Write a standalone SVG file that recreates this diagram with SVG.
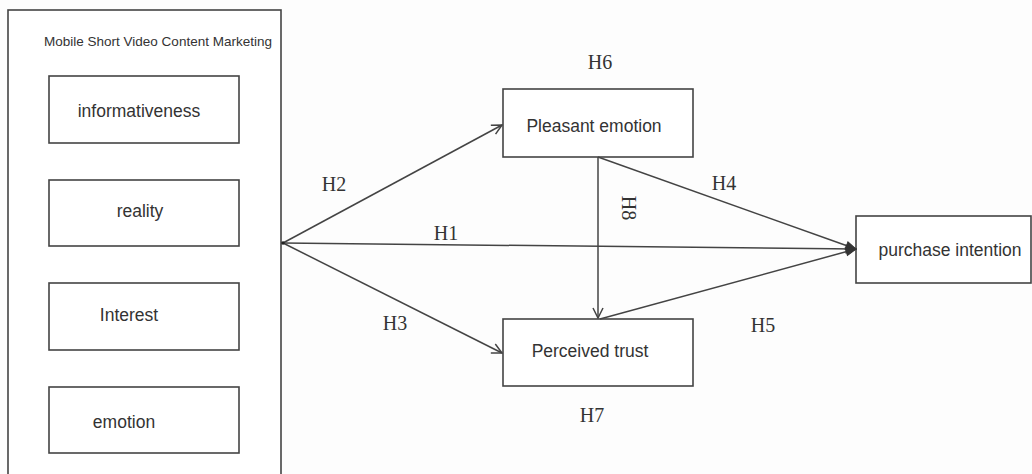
<svg xmlns="http://www.w3.org/2000/svg" width="1032" height="474" viewBox="0 0 1032 474">
<defs>
<style>
.box{fill:#fff;stroke:#444;stroke-width:1.6}
.t{font-family:"Liberation Sans",Arial,sans-serif;font-size:17.5px;fill:#333;text-anchor:middle}
.h{font-family:"Liberation Serif","Times New Roman",serif;font-size:20px;fill:#333;text-anchor:middle}
.c{stroke:#444;stroke-width:1.5;fill:none}
</style>
<marker id="open" viewBox="0 0 12 12" refX="11" refY="6" markerWidth="12" markerHeight="12" markerUnits="userSpaceOnUse" orient="auto">
<path d="M1,1 L11,6 L1,11" fill="none" stroke="#444" stroke-width="1.5"/>
</marker>
<marker id="solid" viewBox="0 0 12 12" refX="11" refY="6" markerWidth="12" markerHeight="12" markerUnits="userSpaceOnUse" orient="auto">
<path d="M1,2 L11,6 L1,10 Z" fill="#333" stroke="#333" stroke-width="1"/>
</marker>
</defs>
<rect width="1032" height="474" fill="#fdfdfd"/>
<g id="content-marketing">
<rect class="box" x="8" y="10" width="273" height="470" fill="#fafafa"/>
<text x="158" y="46" font-family="Liberation Sans,Arial,sans-serif" font-size="13.5px" fill="#333" text-anchor="middle">Mobile Short Video Content Marketing</text>
</g>
<g id="informativeness">
<rect class="box" x="49" y="76" width="190" height="67"/>
<text class="t" x="139" y="117">informativeness</text>
</g>
<g id="reality">
<rect class="box" x="49" y="180" width="190" height="66"/>
<text class="t" x="140" y="217">reality</text>
</g>
<g id="interest">
<rect class="box" x="49" y="283" width="190" height="67"/>
<text class="t" x="129" y="321">Interest</text>
</g>
<g id="emotion">
<rect class="box" x="49" y="387" width="190" height="66"/>
<text class="t" x="124" y="428">emotion</text>
</g>
<g id="pleasant-emotion">
<rect class="box" x="503" y="89" width="190" height="68"/>
<text class="t" x="594" y="132">Pleasant emotion</text>
</g>
<g id="perceived-trust">
<rect class="box" x="503" y="319" width="190" height="67"/>
<text class="t" x="590" y="357">Perceived trust</text>
</g>
<g id="purchase-intention">
<rect class="box" x="856" y="216" width="175" height="67"/>
<text class="t" x="950" y="256">purchase intention</text>
</g>
<g id="connectors">
<line class="c" x1="283" y1="243" x2="502" y2="125" marker-end="url(#open)"/>
<line class="c" x1="283" y1="243" x2="502" y2="353" marker-end="url(#open)"/>
<line class="c" x1="283" y1="243" x2="856" y2="249" marker-end="url(#solid)"/>
<line class="c" x1="598" y1="157" x2="856" y2="249" marker-end="url(#solid)"/>
<line class="c" x1="600" y1="319" x2="856" y2="249" marker-end="url(#solid)"/>
<line class="c" x1="598" y1="157" x2="598" y2="318" marker-end="url(#open)"/>
<circle cx="283" cy="243" r="1.8" fill="#222"/>
</g>
<g id="labels">
<text class="h" x="600" y="69">H6</text>
<text class="h" x="334" y="191">H2</text>
<text class="h" x="446" y="240">H1</text>
<text class="h" x="395" y="330">H3</text>
<text class="h" x="592" y="422">H7</text>
<text class="h" x="724" y="190">H4</text>
<text class="h" x="763" y="332">H5</text>
<text class="h" x="0" y="0" font-size="14px" transform="translate(622,208) rotate(90)">H8</text>
</g>
</svg>
